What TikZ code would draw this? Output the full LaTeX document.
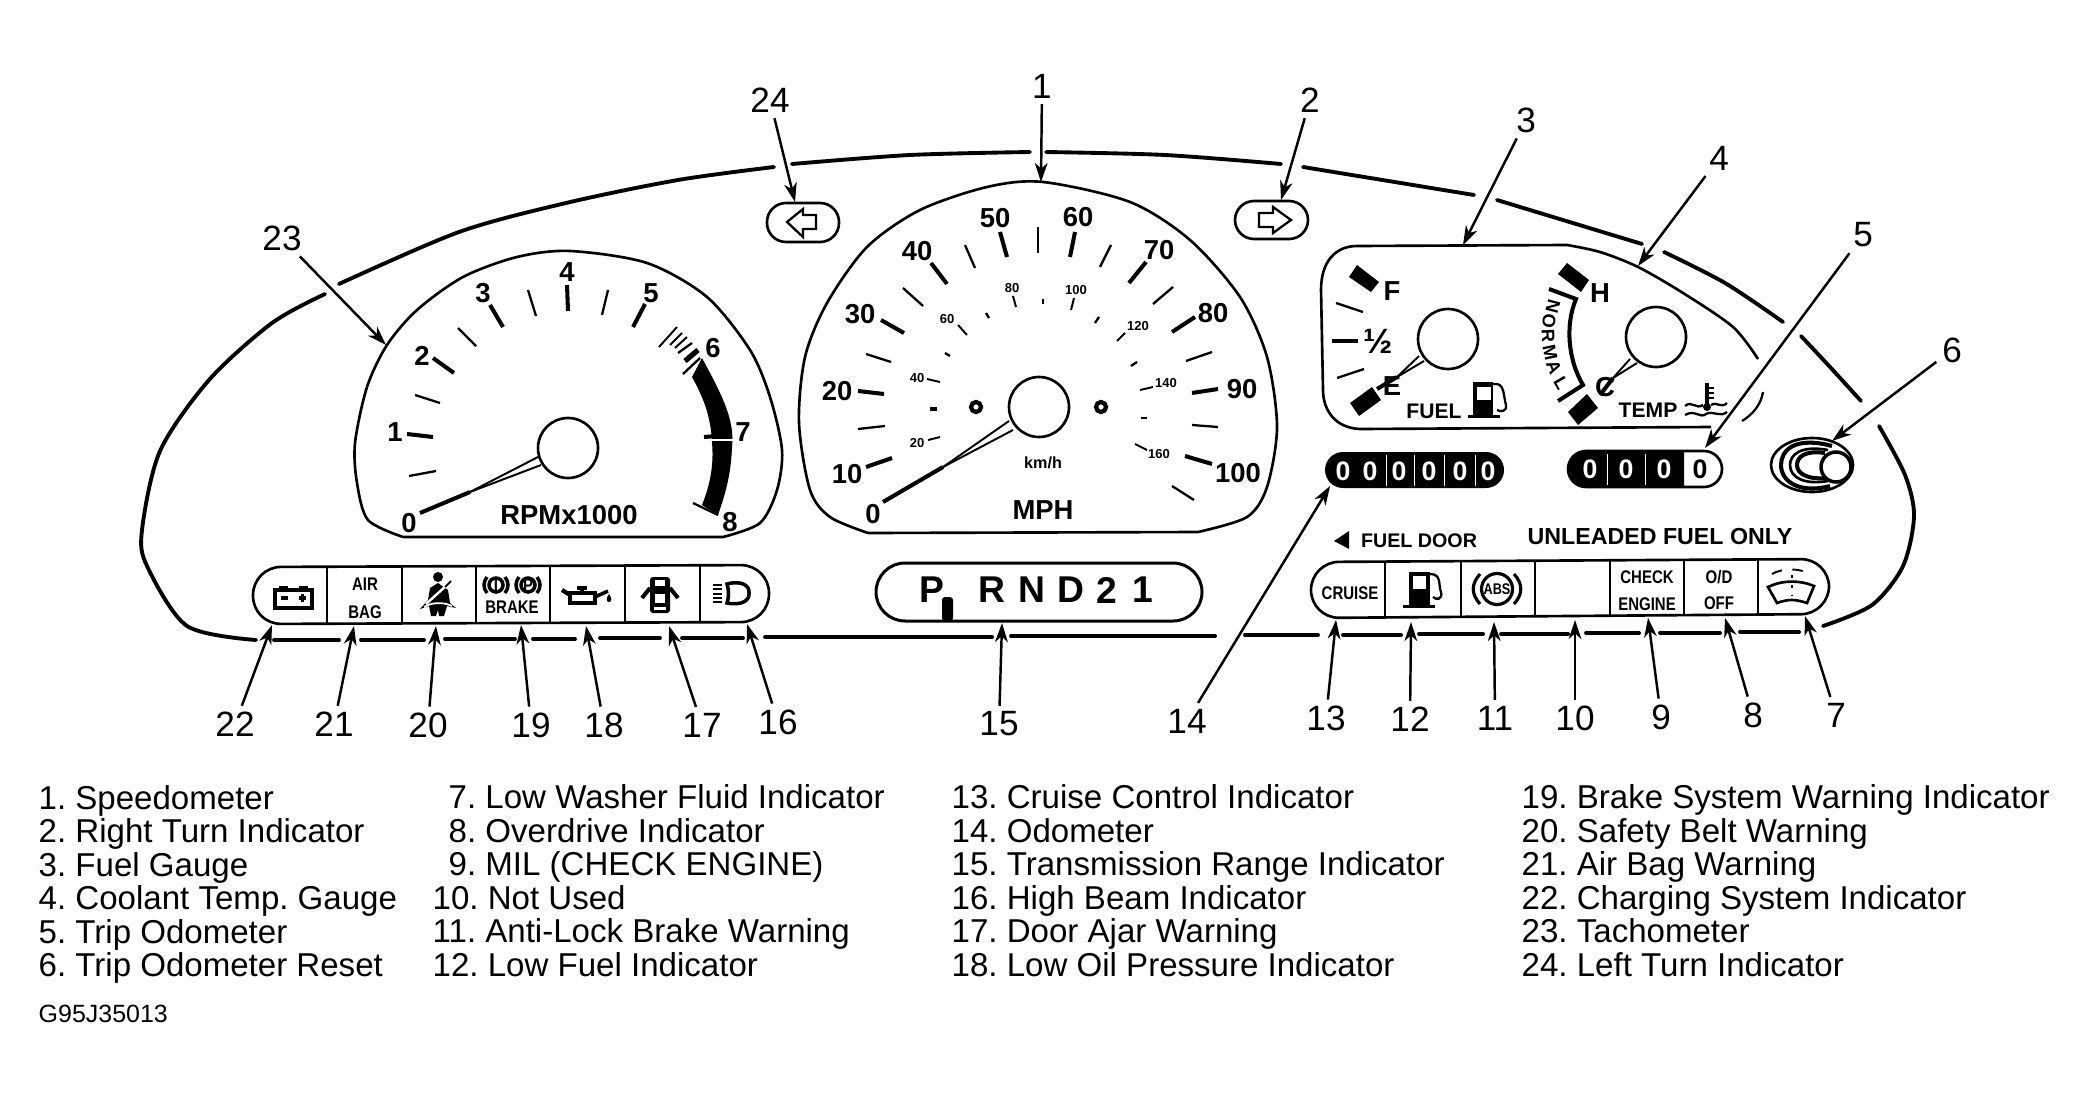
\documentclass[tikz,border=0pt]{standalone}
\usepackage{fontspec}
\setmainfont{Liberation Sans}
\newfontfamily\lampfont[FakeStretch=0.82]{Liberation Sans}
\usetikzlibrary{arrows.meta}
\tikzset{
  panel/.style={line width=1.1pt, line cap=round},
  dial/.style={line width=0.75pt},
  major/.style={line width=1.15pt},
  minor/.style={line width=0.65pt},
  tiny/.style={line width=0.55pt},
  callout/.style={-{Stealth[length=5.4pt,width=3.6pt,inset=1.6pt]}, line width=0.7pt},
  calloutnum/.style={inner sep=1.5pt, font=\fontsize{10}{12}\selectfont},
  listitem/.style={anchor=base west, inner sep=0pt, font=\fontsize{9.4}{11}\selectfont\frenchspacing},
  dialnum/.style={inner sep=0pt, font=\bfseries\fontsize{7.8}{9}\selectfont},
  kmhnum/.style={inner sep=0pt, font=\bfseries\fontsize{3.7}{4}\selectfont},
  lamptext/.style={inner sep=0pt, align=center, font=\lampfont\bfseries\fontsize{5.2}{5.6}\selectfont},
  normletter/.style={inner sep=0pt, font=\bfseries\fontsize{5.2}{6}\selectfont},
  odonum/.style={inner sep=0pt, white, font=\bfseries\fontsize{7.6}{8}\selectfont},
}
\begin{document}
\begin{tikzpicture}[x=0.01cm, y=-0.01cm]
  \path[use as bounding box, fill=white] (0,0) rectangle (2086,1097);
  % Cluster outline, broken where the arrows pass
  \draw[panel] plot[smooth] coordinates {(325,294) (272,323) (209,380) (160,451) (142,530) (147,566) (187,626) (256,640)};
  \draw[panel] plot[smooth] coordinates {(339,284) (459,232) (566,203) (678,180) (774,167)};
  \draw[panel] plot[smooth] coordinates {(792,164) (910,155) (1030,152)};
  \draw[panel] plot[smooth] coordinates {(1046,152) (1165,155) (1281,164)};
  \draw[panel] (1303,167) -- (1474,195);
  \draw[panel] (1497,200) -- (1642,244);
  \draw[panel] plot[smooth] coordinates {(1664,252) (1725,283) (1783,322)};
  \draw[panel] plot[smooth] coordinates {(1801,336) (1830,367) (1861,401)};
  \draw[panel] plot[smooth] coordinates {(1879,426) (1905,475) (1914,516) (1903,566) (1872,605) (1823,626)};
  % Bottom edge
  \draw[panel] (274,640) -- (339,640);
  \draw[panel] (361,640) -- (424,640);
  \draw[panel] (445,639) -- (515,639);
  \draw[panel] (533,639) -- (575,639);
  \draw[panel] (600,638) -- (660,638);
  \draw[panel] (682,638) -- (743,638);
  \draw[panel] (765,637) -- (992,637);
  \draw[panel] (1011,636) -- (1215,636);
  \draw[panel] (1245,635) -- (1318,635);
  \draw[panel] (1343,635) -- (1401,635);
  \draw[panel] (1419,634) -- (1483,634);
  \draw[panel] (1501,634) -- (1568,634);
  \draw[panel] (1586,633) -- (1639,633);
  \draw[panel] (1660,633) -- (1720,633);
  \draw[panel] (1740,632) -- (1799,632);

  % Tachometer
  \draw[dial] (403,537) -- (723,537) plot[smooth] coordinates {(723,537) (760,523) (777,490) (782,450) (770,397) (750,350) (707,297) (647,263) (570,251) (517,257) (463,277) (417,310) (387,345) (367,387) (355,443) (357,483) (368,520) (403,537)};
  \draw[dial] (568,448) circle (30);
  \draw[tiny] (538,457) -- (470,492);
  \draw[tiny] (541,465) -- (470,492);
  \draw[major] (470,492) -- (420,513);
  \draw[major] (407,434) -- (433,437);
  \draw[minor] (409,476) -- (436,471);
  \draw[minor] (415,395) -- (440,403);
  \draw[major] (433,358) -- (454,373);
  \draw[minor] (458,328) -- (476,346);
  \draw[major] (490,305) -- (503,327);
  \draw[minor] (528,290) -- (536,316);
  \draw[major] (567,285) -- (568,311);
  \draw[minor] (608,290) -- (602,315);
  \draw[major] (645,304) -- (633,327);
  \draw[tiny] (677,327) -- (659,347);
  \draw[tiny] (682,333) -- (670,345);
  \draw[tiny] (687,337) -- (675,348);
  \draw[minor] (692,343) -- (678,353);
  \draw[line width=1.5pt] (698,350) -- (685,361);
  \fill (702,358) .. controls (722,395) and (735,420) .. (732,447) .. controls (731,475) and (725,495) .. (718,515) -- (702,505) .. controls (710,485) and (714,465) .. (712,443) .. controls (711,415) and (702,395) .. (692,377) -- cycle;
  \draw[minor] (683,374) -- (700,358);
  \draw[minor] (693,503) -- (718,515);
  \draw[white, line width=0.4pt] (710,440) -- (734,440);
  \draw[major] (704,437) -- (730,435);
  \node[dialnum] (tach0) at (409,523) {0};
  \node[dialnum] (tach1) at (395,432) {1};
  \node[dialnum] (tach2) at (422,356) {2};
  \node[dialnum] (tach3) at (483,293) {3};
  \node[dialnum] (tach4) at (567,272) {4};
  \node[dialnum] (tach5) at (651,293) {5};
  \node[dialnum] (tach6) at (713,348) {6};
  \node[dialnum] (tach7) at (743,432) {7};
  \node[dialnum] (tach8) at (730,522) {8};
  \node[dialnum] (rpm) at (569,515) {RPMx1000};

  % Speedometer
  \draw[dial] (868,533) -- (1198,532) plot[smooth] coordinates {(1198,532) (1247,517) (1267,487) (1277,427) (1267,357) (1240,297) (1190,240) (1130,202) (1043,182) (987,187) (920,210) (867,247) (827,303) (805,357) (799,423) (810,490) (830,517) (868,533)};
  \draw[dial] (1039,407) circle (30);
  \draw[tiny] (1009,421) -- (943,467);
  \draw[tiny] (1013,430) -- (943,467);
  \draw[major] (943,467) -- (883,502);
  \draw[major] (866,467) -- (892,458);
  \draw[minor] (858,429) -- (885,426);
  \draw[major] (858,391) -- (884,394);
  \draw[minor] (866,354) -- (891,362);
  \draw[major] (881,320) -- (904,333);
  \draw[minor] (903,288) -- (923,306);
  \draw[major] (931,263) -- (947,284);
  \draw[minor] (965,245) -- (975,268);
  \draw[major] (1000,232) -- (1007,257);
  \draw[minor] (1038,227) -- (1038,253);
  \draw[major] (1075,232) -- (1070,257);
  \draw[minor] (1111,245) -- (1100,267);
  \draw[major] (1146,262) -- (1129,283);
  \draw[minor] (1173,287) -- (1153,304);
  \draw[major] (1195,317) -- (1172,332);
  \draw[minor] (1212,352) -- (1186,361);
  \draw[major] (1218,389) -- (1192,393);
  \draw[minor] (1218,427) -- (1192,425);
  \draw[major] (1212,464) -- (1185,456);
  \draw[minor] (1194,500) -- (1172,486);
  % Inner km/h scale
  \draw[tiny] (940,437) -- (928,440);
  \draw[major] (930,409) -- (937,409);
  \draw[tiny] (940,382) -- (927,379);
  \draw[minor] (945,353) -- (950,356);
  \draw[tiny] (967,335) -- (958,325);
  \draw[minor] (986,313) -- (989,318);
  \draw[tiny] (1016,307) -- (1013,296);
  \draw[minor] (1043,299) -- (1043,304);
  \draw[tiny] (1071,310) -- (1074,298);
  \draw[minor] (1095,323) -- (1099,317);
  \draw[tiny] (1117,341) -- (1125,333);
  \draw[minor] (1131,366) -- (1137,362);
  \draw[tiny] (1140,390) -- (1153,387);
  \draw[minor] (1141,418) -- (1147,418);
  \draw[tiny] (1135,444) -- (1147,450);
  \filldraw[fill=white, line width=1.2pt] (976,407) circle (5);
  \filldraw[fill=white, line width=1.2pt] (1101,407) circle (5);
  \node[dialnum] (spd0) at (873,514) {0};
  \node[dialnum] (spd10) at (847,474) {10};
  \node[dialnum] (spd20) at (837,391) {20};
  \node[dialnum] (spd30) at (860,314) {30};
  \node[dialnum] (spd40) at (917,251) {40};
  \node[dialnum] (spd50) at (995,218) {50};
  \node[dialnum] (spd60) at (1078,217) {60};
  \node[dialnum] (spd70) at (1159,250) {70};
  \node[dialnum] (spd80) at (1213,313) {80};
  \node[dialnum] (spd90) at (1242,389) {90};
  \node[dialnum] (spd100) at (1238,473) {100};
  \node[dialnum] (mph) at (1043,510) {MPH};
  \node[kmhnum] (kmh20) at (917,443) {20};
  \node[kmhnum] (kmh40) at (917,378) {40};
  \node[kmhnum] (kmh60) at (947,319) {60};
  \node[kmhnum] (kmh80) at (1012,288) {80};
  \node[kmhnum] (kmh100) at (1076,290) {100};
  \node[kmhnum] (kmh120) at (1138,326) {120};
  \node[kmhnum] (kmh140) at (1166,383) {140};
  \node[kmhnum] (kmh160) at (1159,454) {160};
  \node[inner sep=0pt, font=\bfseries\fontsize{4.6}{5}\selectfont] (kmh) at (1043,463) {km/h};

  % Turn indicators
  \draw[dial, rounded corners=0.19cm] (767,203) rectangle (839,242);
  \draw[minor] (787,222) -- (803,209) -- (803,215) -- (816,215) -- (816,229) -- (803,229) -- (803,237) -- cycle;
  \draw[dial, rounded corners=0.19cm] (1235,201) rectangle (1308,239);
  \draw[minor] (1291,220) -- (1273,207) -- (1273,213) -- (1259,213) -- (1259,227) -- (1273,227) -- (1273,233) -- cycle;

  % Fuel and temp panel
  \draw[dial] (1711,427) -- (1360,429) .. controls (1335,428) and (1323,410) .. (1323,390) -- (1321,290) .. controls (1321,262) and (1335,246) .. (1357,246) -- (1567,245) plot[smooth] coordinates {(1567,245) (1600,252) (1638,267) (1683,293) (1733,327) (1758,359)};
  \draw[minor] (1763,392) .. controls (1761,405) and (1752,415) .. (1742,421);
  \draw[dial] (1448,339) circle (30);
  \draw[dial] (1656,337) circle (30);
  % Fuel scale
  \fill (1357,265) -- (1379,282) -- (1371,292) -- (1349,277) -- cycle;
  \fill (1372,387) -- (1381,400) -- (1359,416) -- (1350,403) -- cycle;
  \draw[minor] (1336,303) -- (1363,312);
  \draw[line width=1.4pt] (1332,341) -- (1358,341);
  \draw[minor] (1337,378) -- (1364,369);
  \draw[tiny] (1419,356) -- (1397,377);
  \draw[tiny] (1424,361) -- (1397,377);
  \draw[major] (1397,377) -- (1377,389);
  \node[dialnum] (fuelf) at (1392,291) {F};
  \node[inner sep=0pt, font=\bfseries\fontsize{10}{12}\selectfont] (fuelhalf) at (1378,341) {½};
  \node[dialnum] (fuele) at (1392,386) {E};
  \node[inner sep=0pt, font=\bfseries\fontsize{6}{7}\selectfont] (fuellabel) at (1434,411) {FUEL};
  % Pump symbol
  \fill (1473,382) rectangle (1493,415);
  \fill (1468,415) rectangle (1500,418);
  \fill[white] (1477,387) rectangle (1491,400);
  \draw[minor] (1493,384) .. controls (1505,382) and (1503,395) .. (1506,405) .. controls (1507,412) and (1500,412) .. (1497,410);
  % Temp scale
  \fill (1567,263) -- (1589,280) -- (1581,292) -- (1558,274) -- cycle;
  \fill (1587,394) -- (1598,408) -- (1578,425) -- (1568,412) -- cycle;
  \draw[major] (1549,289) -- (1576,299) .. controls (1565,325) and (1568,360) .. (1583,385) -- (1558,401);
  \draw[tiny] (1630,359) -- (1613,378);
  \draw[tiny] (1637,363) -- (1613,378);
  \draw[major] (1613,378) -- (1600,395);
  \node[dialnum] (temph) at (1600,293) {H};
  \node[dialnum] (tempc) at (1605,387) {C};
  \node[inner sep=0pt, font=\bfseries\fontsize{6}{7}\selectfont] (templabel) at (1648,410) {TEMP};
  \node[normletter, rotate=-105] (normn) at (1553,307) {N};
  \node[normletter, rotate=-95] (normo) at (1549,321) {O};
  \node[normletter, rotate=-88] (normr) at (1548,336) {R};
  \node[normletter, rotate=-78] (normm) at (1550,353) {M};
  \node[normletter, rotate=-68] (norma) at (1554,367) {A};
  \node[normletter, rotate=-60] (norml) at (1561,383) {L};
  % Thermometer symbol
  \draw[line width=1.3pt] (1707,383) -- (1707,405);
  \fill (1707,407) circle (4);
  \draw[tiny] (1707,388) -- (1714,388);
  \draw[tiny] (1707,393) -- (1714,393);
  \draw[tiny] (1707,398) -- (1714,398);
  \draw[minor] (1685,406) .. controls (1692,400) and (1696,410) .. (1703,405);
  \draw[minor] (1711,405) .. controls (1717,401) and (1721,409) .. (1727,403);
  \draw[minor] (1685,415) .. controls (1695,409) and (1700,419) .. (1706,414) .. controls (1713,410) and (1720,418) .. (1727,412);

  % Odometer
  \fill[rounded corners=0.18cm] (1325,452) rectangle (1504,488);
  \node[odonum] (odoa) at (1343,471) {0};
  \node[odonum] (odob) at (1370,471) {0};
  \node[odonum] (odoc) at (1399,471) {0};
  \node[odonum] (odod) at (1429,471) {0};
  \node[odonum] (odoe) at (1460,471) {0};
  \node[odonum] (odof) at (1488,471) {0};
  \draw[white, line width=0.25pt] (1386,455) -- (1386,486);
  \draw[white, line width=0.25pt] (1414,455) -- (1414,486);
  \draw[white, line width=0.25pt] (1444,455) -- (1444,486);
  \draw[white, line width=0.25pt] (1475,455) -- (1475,486);
  % Trip odometer
  \draw[dial, rounded corners=0.18cm] (1568,451) rectangle (1722,487);
  \fill (1684,451) -- (1586,451) arc (-90:-270:18) -- (1684,487) -- cycle;
  \node[odonum] (tripa) at (1590,469) {0};
  \node[odonum] (tripb) at (1626,469) {0};
  \node[odonum] (tripc) at (1664,469) {0};
  \node[odonum, black] (tripd) at (1700,469) {0};
  \draw[white, line width=0.25pt] (1607,454) -- (1607,485);
  \draw[white, line width=0.25pt] (1645,454) -- (1645,485);
  % Reset knob
  \draw[dial] (1812,465) ellipse (41 and 27);
  \draw[major] (1832,446) .. controls (1795,436) and (1781,450) .. (1781,465) .. controls (1781,482) and (1800,494) .. (1830,486);
  \draw[dial] (1828,450) .. controls (1800,445) and (1790,455) .. (1790,465) .. controls (1790,478) and (1805,485) .. (1828,481);
  \draw[major] (1825,453) .. controls (1805,450) and (1797,457) .. (1797,465) .. controls (1797,473) and (1806,480) .. (1828,478);
  \filldraw[fill=white, line width=1pt] (1836,467) circle (15);

  % Left lamp strip
  \draw[dial, rounded corners=0.28cm] (253,567) -- (769,565) -- (769,622) -- (253,624) -- cycle;
  \draw[dial] (327,567) -- (327,624);
  \draw[dial] (402,567) -- (402,624);
  \draw[dial] (476,566) -- (476,623);
  \draw[dial] (550,566) -- (550,623);
  \draw[dial] (625,566) -- (625,623);
  \draw[dial] (700,565) -- (700,622);
  % Battery
  \draw[line width=1pt] (275,590) rectangle (312,608);
  \fill (279,586) rectangle (288,590);
  \fill (299,586) rectangle (308,590);
  \draw[line width=1pt] (281,598) -- (288,598);
  \draw[line width=1pt] (299,598) -- (306,598);
  \draw[line width=1pt] (302.5,594) -- (302.5,602);
  \node[lamptext] (airbag) at (365,598) {AIR\\[2.4pt]BAG};
  % Seat belt figure
  \fill (438,577) circle (5);
  \fill (438,583) -- (448,590) -- (450,603) -- (456,608) -- (447,606) -- (444,616) -- (439,616) -- (438,610) -- (436,616) -- (431,616) -- (429,606) -- (420,609) -- (428,600) -- (430,588) -- cycle;
  \draw[white, line width=0.7pt] (426,604) -- (447,585);
  \draw[white, line width=0.5pt] (424,607) .. controls (432,602) and (444,602) .. (452,606);
  \draw[line width=0.5pt] (445,587) -- (451,581);
  % Brake symbols
  \draw[line width=1pt] (496,585) circle (7);
  \draw[line width=1pt] (528,585) circle (7);
  \draw[line width=1pt] (487,577) .. controls (483,582) and (483,588) .. (487,593);
  \draw[line width=1pt] (505,577) .. controls (509,582) and (509,588) .. (505,593);
  \draw[line width=1pt] (519,577) .. controls (515,582) and (515,588) .. (519,593);
  \draw[line width=1pt] (537,577) .. controls (541,582) and (541,588) .. (537,593);
  \node[lamptext] (braki) at (496,585) {I};
  \node[lamptext] (brakp) at (528,585) {P};
  \node[lamptext] (brake) at (512,607) {BRAKE};
  % Oil can
  \draw[line width=0.9pt] (570,593) rectangle (595,603);
  \draw[line width=1pt] (582,593) -- (582,588);
  \draw[line width=1pt] (577,588) -- (587,588);
  \draw[line width=1.2pt] (570,595) -- (562,590);
  \draw[line width=1pt] (595,597) -- (608,591);
  \fill (609,594) .. controls (612,598) and (612,602) .. (609,602) .. controls (606,602) and (606,598) .. (609,594) -- cycle;
  % Door ajar car
  \fill[rounded corners=0.03cm] (650,577) rectangle (670,613);
  \fill[white] (655,580) rectangle (665,586);
  \fill[white] (655,594) rectangle (665,603);
  \fill[white] (654,607) rectangle (666,610);
  \draw[major] (650,588) -- (642,598);
  \draw[major] (670,588) -- (678,598);
  % Beam symbol
  \draw[line width=1pt] (727,584) .. controls (742,580) and (750,586) .. (749,593) .. controls (750,600) and (742,606) .. (727,603) .. controls (729,597) and (729,590) .. (727,584) -- cycle;
  \draw[line width=0.6pt] (713,585) -- (722,585);
  \draw[line width=0.6pt] (713,589) -- (722,589);
  \draw[line width=0.6pt] (713,594) -- (722,594);
  \draw[line width=0.6pt] (713,598) -- (722,598);
  \draw[line width=0.6pt] (713,602) -- (722,602);

  % Gear range strip
  \draw[line width=0.85pt, rounded corners=0.29cm] (876,563) rectangle (1202,621);
  \node[inner sep=0pt, font=\bfseries\fontsize{10.6}{12}\selectfont] (gearp) at (932,590) {P};
  \node[inner sep=0pt, font=\bfseries\fontsize{10.6}{12}\selectfont] (gearr) at (992,590) {R};
  \node[inner sep=0pt, font=\bfseries\fontsize{10.6}{12}\selectfont] (gearn) at (1032,590) {N};
  \node[inner sep=0pt, font=\bfseries\fontsize{10.6}{12}\selectfont] (geard) at (1071,590) {D};
  \node[inner sep=0pt, font=\bfseries\fontsize{10.6}{12}\selectfont] (geartwo) at (1107,590) {2};
  \node[inner sep=0pt, font=\bfseries\fontsize{10.6}{12}\selectfont] (gearone) at (1143,590) {1};
  \fill[rounded corners=0.03cm] (942,621) -- (942,597) -- (953,597) -- (953,621) -- cycle;

  % Right lamp strip
  \fill (1334,541) -- (1349,531) -- (1349,549) -- cycle;
  \node[inner sep=0pt, font=\bfseries\fontsize{5.6}{7}\selectfont] (fueldoor) at (1419,541) {FUEL DOOR};
  \node[inner sep=0pt, font=\bfseries\fontsize{6.6}{8}\selectfont] (unleaded) at (1660,537) {UNLEADED FUEL ONLY};
  \draw[dial, rounded corners=0.28cm] (1311,562) -- (1829,559) -- (1829,614) -- (1311,618) -- cycle;
  \draw[dial] (1385,561) -- (1385,618);
  \draw[dial] (1461,561) -- (1461,617);
  \draw[dial] (1535,560) -- (1535,617);
  \draw[dial] (1610,560) -- (1610,616);
  \draw[dial] (1684,560) -- (1684,615);
  \draw[dial] (1758,559) -- (1758,615);
  \node[lamptext] (cruise) at (1350,593) {CRUISE};
  % Low fuel pump
  \fill (1409,572) rectangle (1430,605);
  \fill (1403,605) rectangle (1435,608);
  \fill[white] (1413,576) rectangle (1426,589);
  \draw[minor] (1430,574) .. controls (1442,574) and (1438,585) .. (1441,592) .. controls (1443,600) and (1436,600) .. (1433,597);
  % ABS
  \draw[line width=0.9pt] (1497,589) circle (15.5);
  \node[inner sep=0pt, font=\lampfont\bfseries\fontsize{4.4}{5}\selectfont] (abs) at (1497,589) {ABS};
  \draw[line width=0.9pt] (1480,574) .. controls (1471,584) and (1471,594) .. (1480,604);
  \draw[line width=0.9pt] (1514,574) .. controls (1523,584) and (1523,594) .. (1514,604);
  \node[lamptext] (checkengine) at (1647,591) {CHECK\\[2pt]ENGINE};
  \node[lamptext] (overdrive) at (1719,590) {O/D\\[2pt]OFF};
  % Washer symbol
  \draw[dial] (1768,587) .. controls (1782,580) and (1800,580) .. (1814,586) -- (1807,603) .. controls (1795,599) and (1788,599) .. (1777,603) -- cycle;
  \draw[tiny, dashed] (1772,574) .. controls (1782,568) and (1800,568) .. (1810,574);
  \draw[line width=0.8pt, dotted] (1792,575) -- (1792,595);

  % Callout numbers and their targets
  \node[calloutnum] (n1) at (1042,86) {1};
  \node[calloutnum] (n2) at (1310,100) {2};
  \node[calloutnum] (n3) at (1526,120) {3};
  \node[calloutnum] (n4) at (1719,158) {4};
  \node[calloutnum] (n5) at (1863,235) {5};
  \node[calloutnum] (n6) at (1952,350) {6};
  \node[calloutnum] (n7) at (1836,715) {7};
  \node[calloutnum] (n8) at (1753,715) {8};
  \node[calloutnum] (n9) at (1661,717) {9};
  \node[calloutnum] (n10) at (1575,718) {10};
  \node[calloutnum] (n11) at (1495,718) {11};
  \node[calloutnum] (n12) at (1410,719) {12};
  \node[calloutnum] (n13) at (1326,718) {13};
  \node[calloutnum] (n14) at (1187,721) {14};
  \node[calloutnum] (n15) at (999,724) {15};
  \node[calloutnum] (n16) at (778,722) {16};
  \node[calloutnum] (n17) at (702,725) {17};
  \node[calloutnum] (n18) at (604,725) {18};
  \node[calloutnum] (n19) at (531,725) {19};
  \node[calloutnum] (n20) at (428,725) {20};
  \node[calloutnum] (n21) at (334,724) {21};
  \node[calloutnum] (n22) at (235,724) {22};
  \node[calloutnum] (n23) at (282,238) {23};
  \node[calloutnum] (n24) at (770,100) {24};
  \coordinate (speedo) at (1041,182);
  \coordinate (rightturn) at (1281,200);
  \coordinate (fuelgauge) at (1463,245);
  \coordinate (tempgauge) at (1638,266);
  \coordinate (tripodo) at (1705,448);
  \coordinate (tripreset) at (1832,441);
  \coordinate (washer) at (1805,616);
  \coordinate (od) at (1725,618);
  \coordinate (mil) at (1648,618);
  \coordinate (notused) at (1575,620);
  \coordinate (abslamp) at (1494,622);
  \coordinate (lowfuel) at (1411,622);
  \coordinate (cruiselamp) at (1336,620);
  \coordinate (odo) at (1330,486);
  \coordinate (range) at (1002,623);
  \coordinate (highbeam) at (747,624);
  \coordinate (door) at (669,626);
  \coordinate (oil) at (586,626);
  \coordinate (brakelamp) at (521,625);
  \coordinate (belt) at (436,626);
  \coordinate (airbaglamp) at (354,626);
  \coordinate (charging) at (272,625);
  \coordinate (tacho) at (386,345);
  \coordinate (leftturn) at (795,202);
  \draw[callout] (n1) -- (speedo);
  \draw[callout] (n2) -- (rightturn);
  \draw[callout] (n3) -- (fuelgauge);
  \draw[callout] (n4) -- (tempgauge);
  \draw[callout] (n5) -- (tripodo);
  \draw[callout] (n6) -- (tripreset);
  \draw[callout] (n7) -- (washer);
  \draw[callout] (n8) -- (od);
  \draw[callout] (n9) -- (mil);
  \draw[callout] (n10) -- (notused);
  \draw[callout] (n11) -- (abslamp);
  \draw[callout] (n12) -- (lowfuel);
  \draw[callout] (n13) -- (cruiselamp);
  \draw[callout] (n14) -- (odo);
  \draw[callout] (n15) -- (range);
  \draw[callout] (n16) -- (highbeam);
  \draw[callout] (n17) -- (door);
  \draw[callout] (n18) -- (oil);
  \draw[callout] (n19) -- (brakelamp);
  \draw[callout] (n20) -- (belt);
  \draw[callout] (n21) -- (airbaglamp);
  \draw[callout] (n22) -- (charging);
  \draw[callout] (n23) -- (tacho);
  \draw[callout] (n24) -- (leftturn);

  % Legend
  \node[listitem] (la) at (38,809) {1. Speedometer};
  \node[listitem] (lb) at (38,842) {2. Right Turn Indicator};
  \node[listitem] (lc) at (38,876) {3. Fuel Gauge};
  \node[listitem] (ld) at (38,909) {4. Coolant Temp. Gauge};
  \node[listitem] (le) at (38,943) {5. Trip Odometer};
  \node[listitem] (lf) at (38,976) {6. Trip Odometer Reset};
  \node[listitem] (lg) at (448,808) {7. Low Washer Fluid Indicator};
  \node[listitem] (lh) at (448,842) {8. Overdrive Indicator};
  \node[listitem] (li) at (448,875) {9. MIL (CHECK ENGINE)};
  \node[listitem] (lj) at (432,909) {10. Not Used};
  \node[listitem] (lk) at (432,942) {11. Anti-Lock Brake Warning};
  \node[listitem] (ll) at (432,976) {12. Low Fuel Indicator};
  \node[listitem] (lm) at (951,808) {13. Cruise Control Indicator};
  \node[listitem] (ln) at (951,842) {14. Odometer};
  \node[listitem] (lo) at (951,875) {15. Transmission Range Indicator};
  \node[listitem] (lp) at (951,909) {16. High Beam Indicator};
  \node[listitem] (lq) at (951,942) {17. Door Ajar Warning};
  \node[listitem] (lr) at (951,976) {18. Low Oil Pressure Indicator};
  \node[listitem] (ls) at (1521,808) {19. Brake System Warning Indicator};
  \node[listitem] (lt) at (1521,842) {20. Safety Belt Warning};
  \node[listitem] (lu) at (1521,875) {21. Air Bag Warning};
  \node[listitem] (lv) at (1521,909) {22. Charging System Indicator};
  \node[listitem] (lw) at (1521,942) {23. Tachometer};
  \node[listitem] (lx) at (1521,976) {24. Left Turn Indicator};
  \node[listitem, font=\fontsize{7.1}{8}\selectfont] (figcode) at (38,1022) {G95J35013};
\end{tikzpicture}
\end{document}
